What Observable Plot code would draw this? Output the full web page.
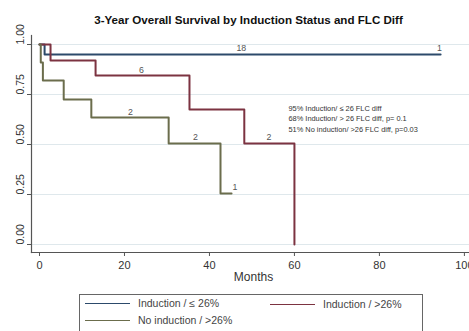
<!DOCTYPE html>
<html>
<head>
<meta charset="utf-8">
<script src="https://cdn.jsdelivr.net/npm/d3@7"></script>
<script src="https://cdn.jsdelivr.net/npm/@observablehq/plot@0.6"></script>
<style>
  body { margin:0; background:#fff; font-family:"Liberation Sans", Arial, sans-serif; }
  #wrap { position:relative; width:469px; height:331px; overflow:hidden; }
  #legend { position:absolute; left:79px; top:294px; width:344px; height:60px; border:1px solid #666; box-sizing:border-box; }
  .entry { position:absolute; font-size:10.5px; color:#444; white-space:nowrap; }
  .sw { display:inline-block; width:45px; height:0; border-top:1.5px solid; vertical-align:middle; margin-right:8px; position:relative; top:-1px; }
</style>
</head>
<body>
<div id="wrap"></div>
<script>
const title = "3-Year Overall Survival by Induction Status and FLC Diff";
const xTicks = [0, 20, 40, 60, 80, 100];
const yTicks = [0, 0.25, 0.5, 0.75, 1];
const seriesNames = ["Induction / ≤ 26%", "Induction / >26%", "No induction / >26%"];
const seriesColors = ["#2c4a6b", "#7c3341", "#6b6d4c"];

// Kaplan-Meier steps
const indLowTime = [0, 1.2, 94.4];
const indLowSurv = [1, 0.95, 0.95];
const indHighTime = [0, 2.6, 13.2, 35.3, 48.2, 60];
const indHighSurv = [1, 0.92, 0.845, 0.675, 0.505, 0];
const noIndTime = [0, 0.3, 0.8, 5.7, 12.2, 30.4, 42.6, 45.2];
const noIndSurv = [1, 0.91, 0.82, 0.725, 0.635, 0.505, 0.255, 0.255];

// numbers at risk labels
const riskTime = [47.5, 94.1, 24, 54, 21.4, 36.7, 46];
const riskSurv = [0.98, 0.98, 0.87, 0.535, 0.66, 0.535, 0.285];
const riskText = ["18", "1", "6", "2", "2", "2", "1"];

const annotation = [
  "95% Induction/ ≤ 26 FLC diff",
  "68% Induction/ > 26 FLC diff, p= 0.1",
  "51% No induction/ >26 FLC diff, p=0.03"
];

const rows = [];
indLowTime.forEach((t, i) => rows.push({group: seriesNames[0], t, s: indLowSurv[i]}));
indHighTime.forEach((t, i) => rows.push({group: seriesNames[1], t, s: indHighSurv[i]}));
noIndTime.forEach((t, i) => rows.push({group: seriesNames[2], t, s: noIndSurv[i]}));
const risk = riskTime.map((t, i) => ({t, s: riskSurv[i], label: riskText[i]}));

const chart = Plot.plot({
  width: 469,
  height: 331,
  marginLeft: 31,
  marginRight: 0,
  marginTop: 35,
  marginBottom: 79,
  style: {fontFamily: "Liberation Sans, Arial, sans-serif", background: "#fff", overflow: "visible"},
  x: {domain: [-1.88, 101.2]},
  y: {domain: [-0.04, 1.045]},
  color: {domain: seriesNames, range: seriesColors},
  marks: [
    Plot.gridY(yTicks, {stroke: "#dfe8ec", strokeOpacity: 1}),
    Plot.frame({anchor: "left", stroke: "#555", strokeWidth: 1.2}),
    Plot.frame({anchor: "bottom", stroke: "#555", strokeWidth: 1.2}),
    Plot.axisY({ticks: yTicks, tickSize: 4, tickFormat: () => "", label: null, stroke: "#555"}),
    Plot.text(yTicks, {y: d => d, text: d => d.toFixed(2), frameAnchor: "left", dx: -11, rotate: -90, fontSize: 10.5, fill: "#333"}),
    Plot.axisX({ticks: xTicks, tickSize: 4, tickPadding: 5, fontSize: 11, label: null, stroke: "#555", fill: "#333"}),
    Plot.text(["Months"], {frameAnchor: "bottom", dy: 28, dx: 3, fontSize: 12, fill: "#333"}),
    Plot.text([title], {frameAnchor: "top", dy: -20, dx: -2, fontWeight: "bold", fontSize: 11.6, fill: "#111"}),
    Plot.line(rows, {x: "t", y: "s", z: "group", stroke: "group", curve: "step-after", strokeWidth: 2}),
    Plot.text(risk, {x: "t", y: "s", text: "label", fontSize: 8.8, fill: "#555"}),
    Plot.text([annotation.join("\n")], {x: 58.6, y: 0.705, textAnchor: "start", lineAnchor: "top", fontSize: 7.4, lineHeight: 1.42, fill: "#333"})
  ]
});

const wrap = document.getElementById("wrap");
wrap.appendChild(chart);

const legend = document.createElement("div");
legend.id = "legend";
const pos = [[5, 2], [190, 3], [5, 19]];
seriesNames.forEach((name, i) => {
  const e = document.createElement("div");
  e.className = "entry";
  e.style.left = pos[i][0] + "px";
  e.style.top = pos[i][1] + "px";
  const sw = document.createElement("span");
  sw.className = "sw";
  sw.style.borderColor = seriesColors[i];
  e.appendChild(sw);
  e.appendChild(document.createTextNode(name));
  legend.appendChild(e);
});
wrap.appendChild(legend);
</script>
</body>
</html>
